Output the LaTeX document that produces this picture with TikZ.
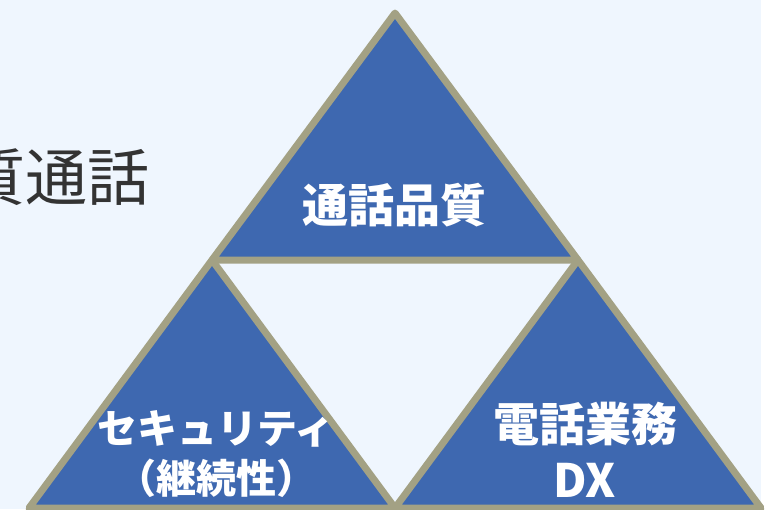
\documentclass[tikz,border=0pt]{standalone}
\usepackage{fontspec}
\newfontfamily\jp{Noto Sans CJK JP}
\definecolor{bgblue}{HTML}{EFF6FE}
\definecolor{trifill}{HTML}{3E68B0}
\definecolor{triedge}{HTML}{A3A184}
\definecolor{greytext}{HTML}{333333}
\tikzset{
  tri/.style={fill=trifill, draw=triedge, line width=7pt, line join=round},
  lbl/.style={text=white, font=\jp\bfseries, align=center, inner sep=0pt}
}
\begin{document}
\begin{tikzpicture}[x=1pt,y=-1pt]
\useasboundingbox (0,0) rectangle (774,509);
\clip (0,0) rectangle (774,509);
\fill[white] (0,0) rectangle (774,509);
\fill[bgblue] (0,0) rectangle (761,509);
\node[anchor=east, text=greytext, font=\jp\fontsize{62}{70}\selectfont, inner sep=0pt] (title) at (150,177) {質通話};
\draw[tri] (395,13) -- (578,260) -- (212,260) -- cycle;
\draw[tri] (212,260) -- (395,508) -- (29,508) -- cycle;
\draw[tri] (578,260) -- (761,508) -- (395,508) -- cycle;
\node[lbl, font=\jp\bfseries\fontsize{46}{56}\selectfont] (top) at (394,205) {通話品質};
\node[lbl, font=\jp\bfseries\fontsize{40}{50}\selectfont] (left) at (216,454) {セキュリティ\\（継続性）};
\node[lbl, font=\jp\bfseries\fontsize{46}{56}\selectfont] (right) at (585,450) {電話業務\\DX};
\end{tikzpicture}
\end{document}
